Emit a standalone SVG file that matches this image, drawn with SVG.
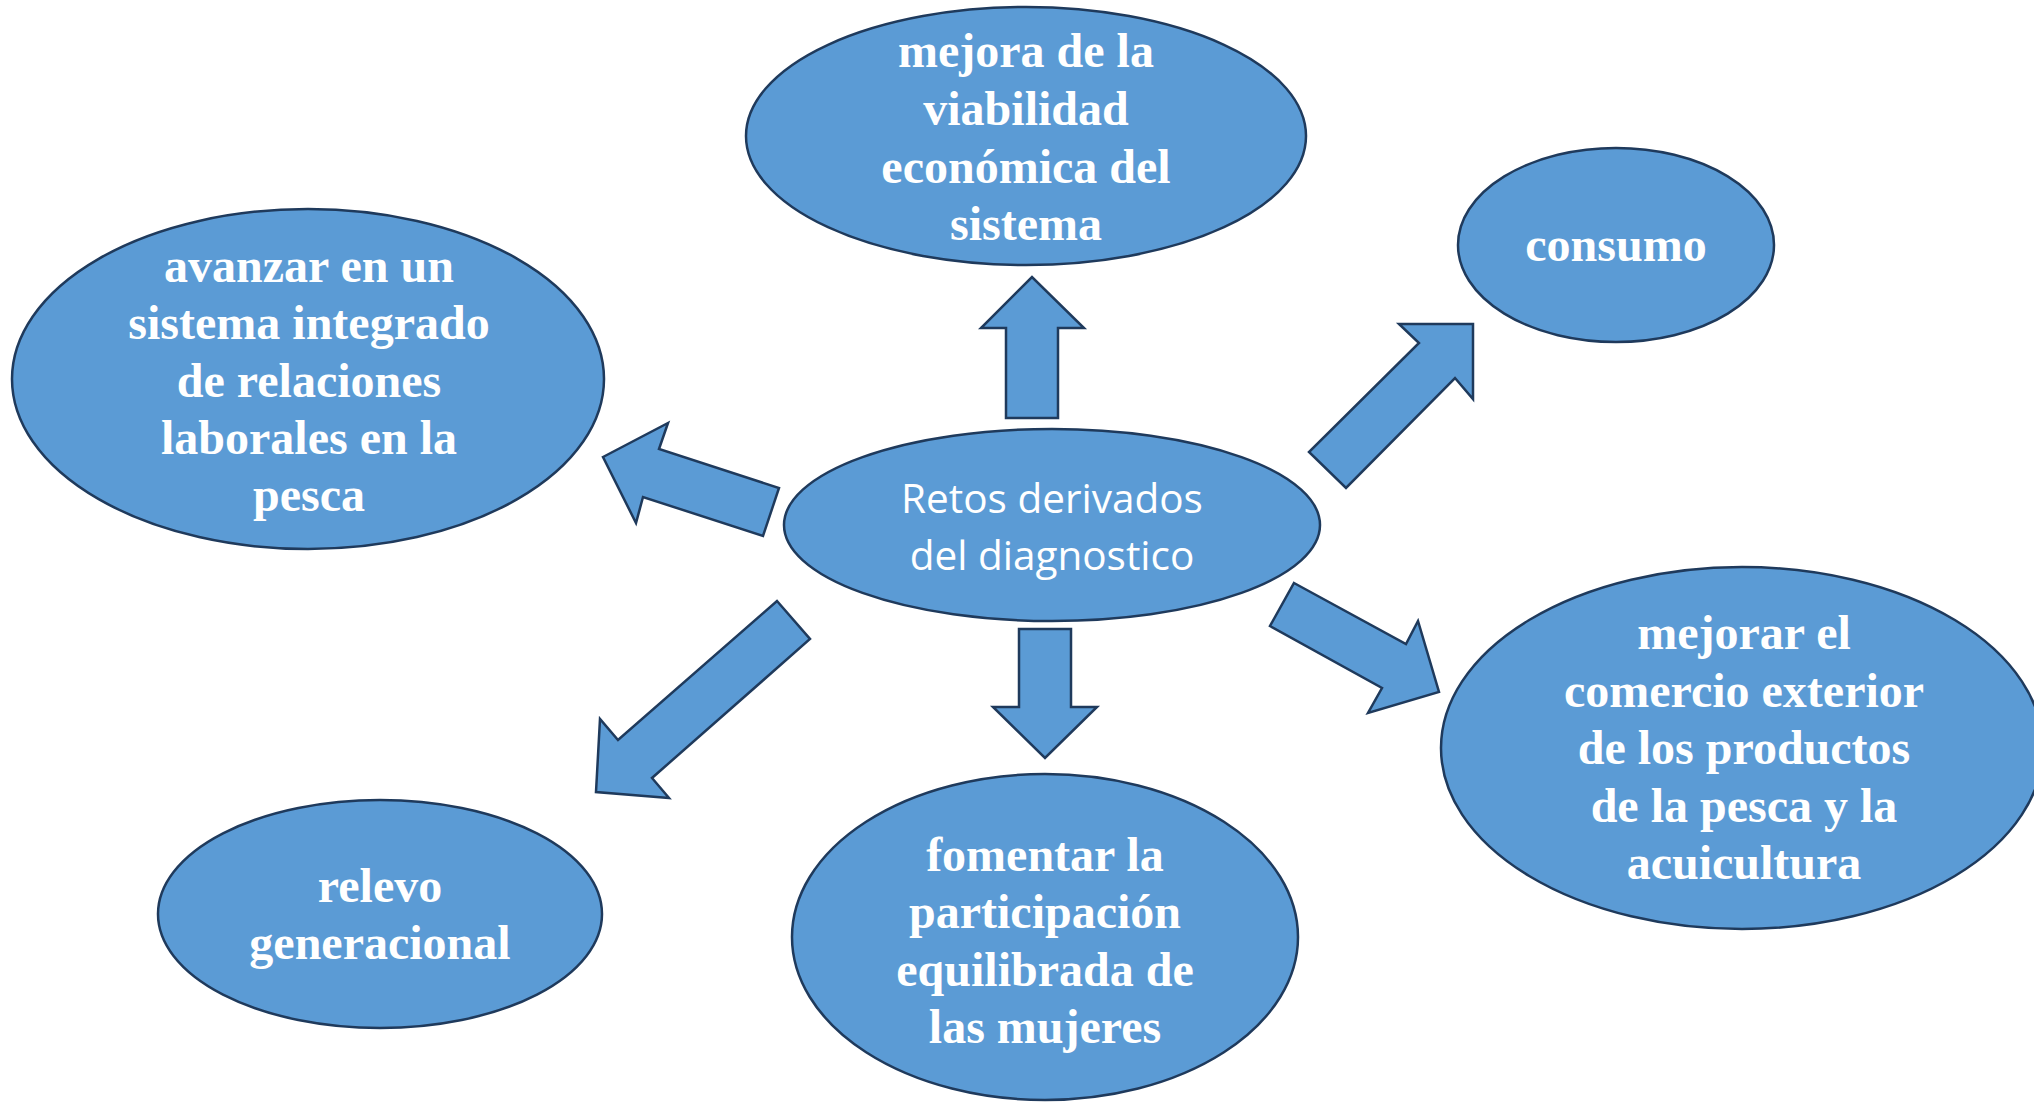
<svg xmlns="http://www.w3.org/2000/svg" width="2034" height="1102" viewBox="0 0 2034 1102">
<style>
.n{fill:#5B9BD5;stroke:#1F3A5C;stroke-width:2.5}
.a{fill:#5B9BD5;stroke:#1F3A5C;stroke-width:2.5;stroke-linejoin:miter}
.t{font-family:"Liberation Serif","Times New Roman",serif;font-weight:bold;font-size:48px;fill:#FFFFFF;text-anchor:middle}
.c{font-family:"Open Sans","Noto Sans",sans-serif;font-size:40.5px;fill:#FFFFFF;text-anchor:middle}
</style>
<rect width="2034" height="1102" fill="#FFFFFF"/>
<g id="connectors">
<polygon class="a" points="1006,418 1006,328 981,328 1032,277 1084,328 1058,328 1058,418"/>
<polygon class="a" points="1399,324 1473,324 1473,399 1455,378 1346,488 1309,452 1419,343"/>
<polygon class="a" points="603,457 668,423 659,449 779,488 763,536 643,497 636,523"/>
<polygon class="a" points="777,601 810,639 652,778 669,798 596,792 600,719 618,740"/>
<polygon class="a" points="1019,629 1071,629 1071,707 1097,707 1045,758 993,707 1019,707"/>
<polygon class="a" points="1294,583 1406,644 1418,621 1439,692 1368,713 1382,688 1270,626"/>
</g>
<g id="node-top">
<ellipse class="n" cx="1026" cy="136" rx="280" ry="129"/>
<text class="t" x="1026" y="67">mejora de la</text>
<text class="t" x="1026" y="125">viabilidad</text>
<text class="t" x="1026" y="183">económica del</text>
<text class="t" x="1026" y="240">sistema</text>
</g>
<g id="node-consumo">
<ellipse class="n" cx="1616" cy="245" rx="158" ry="97"/>
<text class="t" x="1616" y="261">consumo</text>
</g>
<g id="node-left">
<ellipse class="n" cx="308" cy="379" rx="296" ry="170"/>
<text class="t" x="309" y="282">avanzar en un</text>
<text class="t" x="309" y="339">sistema integrado</text>
<text class="t" x="309" y="397">de relaciones</text>
<text class="t" x="309" y="454">laborales en la</text>
<text class="t" x="309" y="511">pesca</text>
</g>
<g id="node-center">
<ellipse class="n" cx="1052" cy="525" rx="268" ry="96"/>
<text class="c" x="1052" y="513">Retos derivados</text>
<text class="c" x="1052" y="570">del diagnostico</text>
</g>
<g id="node-right">
<ellipse class="n" cx="1742" cy="748" rx="301" ry="181"/>
<text class="t" x="1744" y="649">mejorar el</text>
<text class="t" x="1744" y="707">comercio exterior</text>
<text class="t" x="1744" y="764">de los productos</text>
<text class="t" x="1744" y="822">de la pesca y la</text>
<text class="t" x="1744" y="879">acuicultura</text>
</g>
<g id="node-bottom">
<ellipse class="n" cx="1045" cy="937" rx="253" ry="163"/>
<text class="t" x="1045" y="871">fomentar la</text>
<text class="t" x="1045" y="928">participación</text>
<text class="t" x="1045" y="986">equilibrada de</text>
<text class="t" x="1045" y="1043">las mujeres</text>
</g>
<g id="node-bottom-left">
<ellipse class="n" cx="380" cy="914" rx="222" ry="114"/>
<text class="t" x="380" y="902">relevo</text>
<text class="t" x="380" y="959">generacional</text>
</g>
</svg>
